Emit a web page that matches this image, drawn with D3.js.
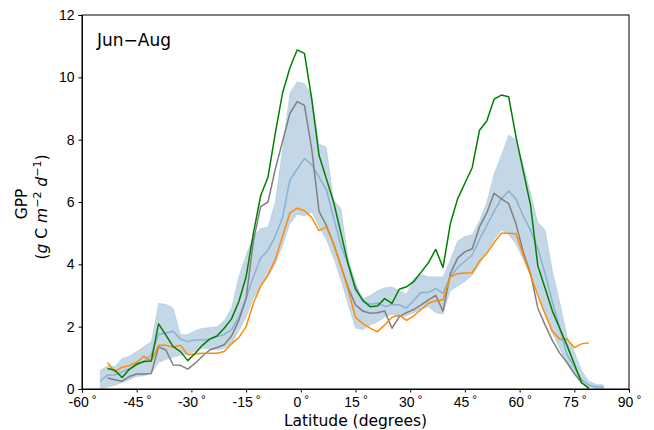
<!DOCTYPE html>
<html>
<head>
<meta charset="utf-8">
<style>
    body { margin: 0; background: #fff; }
    svg { font-family: "DejaVu Sans", sans-serif; }
    .axis text { font-size: 14px; fill: #000; }
    .axis .domain { stroke: #000; stroke-width: 1px; }
    .axis .tick line { stroke: #000; }
</style>
</head>
<body>
<svg width="654" height="430"></svg>
<script src="https://d3js.org/d3.v7.min.js"></script>
<script>
// latitude grid (2 degree bins, bin centres)
const lats = d3.range(-55, 84, 2);

const xTicks = [-60, -45, -30, -15, 0, 15, 30, 45, 60, 75, 90];
const yTicks = [0, 2, 4, 6, 8, 10, 12];

// ensemble spread (lower / upper) and ensemble mean
const bandLo = [0.02, 0.05, 0.12, 0.2, 0.3, 0.4, 0.42, 0.5, 0.85, 0.95, 1.02, 1.08, 1.12, 1.2, 1.3, 1.28, 1.25, 1.3, 1.45, 1.85,
    2.3, 2.9, 3.3, 3.6, 4.0, 4.6, 5.3, 5.6, 5.55, 5.68, 5.2, 4.8, 4.2, 3.5, 2.7, 1.95, 1.9, 2.05, 2.15, 2.3,
    2.4, 2.3, 2.35, 2.45, 2.55, 2.64, 2.45, 2.4, 3.15, 3.3, 3.45, 3.65, 4.0, 4.4, 4.8, 5.1, 4.95, 4.65, 4.15, 3.65,
    3.1, 2.45, 1.8, 1.3, 0.8, 0.45, 0.25, 0.07, 0.02, 0.02];
const bandHi = [0.6, 0.75, 0.72, 0.98, 1.05, 1.2, 1.36, 1.52, 2.75, 2.72, 2.6, 1.75, 1.75, 1.88, 1.95, 1.97, 2.0, 2.2, 2.6, 3.6,
    4.3, 4.9, 5.15, 5.2, 6.0, 7.7, 9.5, 9.86, 9.8, 9.45, 7.85, 7.77, 6.06, 5.8, 4.2, 3.4, 2.9, 3.0, 3.15, 3.25,
    3.28, 3.15, 3.05, 3.55, 3.68, 3.6, 3.6, 3.6, 4.15, 4.75, 4.9, 4.95, 5.4, 6.0, 6.9, 7.5, 8.15, 8.0, 7.2, 6.3,
    5.35, 5.1, 3.8, 2.8, 1.7, 1.2, 0.6, 0.25, 0.15, 0.14];
const ensMean = [0.25, 0.45, 0.45, 0.55, 0.65, 0.77, 0.88, 1.1, 1.75, 1.8, 1.85, 1.6, 1.52, 1.57, 1.57, 1.6, 1.68, 1.75, 1.9, 2.3,
    2.9, 3.6, 4.2, 4.45, 4.9, 5.5, 6.7, 7.05, 7.4, 7.2, 6.8, 6.4, 5.5, 4.6, 4.0, 3.3, 2.8, 2.72, 2.75, 2.65,
    2.7, 2.7, 2.6, 2.85, 3.1, 3.1, 3.22, 3.07, 3.6, 3.9, 4.1, 4.3, 4.8, 5.25, 5.7, 6.1, 6.35, 6.1, 5.55, 5.1,
    4.5, 3.7, 2.8, 1.95, 1.1, 0.7, 0.3, 0.12, 0.07, 0.07];

// reference products
const greySeries = [null, 0.35, 0.3, 0.25, 0.4, 0.48, 0.48, 0.5, 1.35, 1.25, 0.77, 0.76, 0.64, 0.82, 1.05, 1.25, 1.33, 1.42, 1.7, 2.2,
    2.9, 4.75, 5.85, 6.0, 7.05, 7.95, 8.84, 9.22, 9.1, 7.7, 5.7, 5.25, 4.65, 3.95, 3.25, 2.7, 2.5, 2.43, 2.45, 2.5,
    1.95, 2.32, 2.45, 2.55, 2.7, 2.86, 3.0, 2.5, 3.7, 4.2, 4.4, 4.5, 5.2, 5.65, 6.28, 6.1, 5.95, 5.3, 4.4, 3.7,
    2.6, 2.05, 1.55, 1.15, 0.85, 0.5, 0.2, 0.02, null, null];
const orangeSeries = [null, 0.85, 0.55, 0.7, 0.75, 0.85, 1.05, 0.9, 1.4, 1.4, 1.35, 1.4, 1.1, 1.12, 1.15, 1.15, 1.15, 1.2, 1.45, 1.65,
    2.0, 2.75, 3.3, 3.65, 4.15, 4.9, 5.65, 5.8, 5.72, 5.5, 5.08, 5.2, 4.65, 3.95, 3.18, 2.3, 2.1, 1.95, 1.84, 2.05,
    2.3, 2.37, 2.2, 2.35, 2.55, 2.75, 2.83, 2.86, 3.6, 3.7, 3.72, 3.73, 4.1, 4.35, 4.7, 5.0, 5.0, 4.98, 4.3, 3.65,
    3.0, 2.4, 1.85, 1.6, 1.6, 1.33, 1.45, 1.48, null, null];
const greenSeries = [null, 0.66, 0.6, 0.37, 0.63, 0.8, 0.88, 0.9, 2.09, 1.73, 1.36, 1.2, 0.91, 1.14, 1.4, 1.6, 1.7, 1.95, 2.25, 2.8,
    3.6, 5.0, 6.2, 6.8, 8.2, 9.5, 10.3, 10.88, 10.77, 9.3, 7.5, 6.75, 6.0, 5.0, 4.0, 3.2, 2.85, 2.64, 2.66, 2.9,
    2.75, 3.2, 3.28, 3.45, 3.75, 4.05, 4.48, 3.9, 5.3, 6.1, 6.6, 7.1, 8.3, 8.6, 9.3, 9.43, 9.38, 8.1, 7.0, 5.9,
    3.95, 3.23, 2.5, 1.95, 1.4, 0.8, 0.2, 0.03, null, null];

const margin = { top: 15, right: 25, bottom: 41, left: 82 };
const width = 654, height = 430;

const svg = d3.select("svg");

const x = d3.scaleLinear()
    .domain([-60, 90])
    .range([margin.left, width - margin.right]);

const y = d3.scaleLinear()
    .domain([0, 12])
    .range([height - margin.bottom, margin.top]);

// spread band
const area = d3.area()
    .x((d, i) => x(lats[i]))
    .y0((d, i) => y(bandLo[i]))
    .y1((d, i) => y(bandHi[i]));

svg.append("path")
    .attr("d", area(lats))
    .style("fill", "#4682b4")
    .style("fill-opacity", 0.32)
    .style("stroke", "#4682b4")
    .style("stroke-opacity", 0.15)
    .style("stroke-width", 1);

function drawLine(values, colour, opacity) {
    let line = d3.line()
        .defined((d, i) => values[i] !== null)
        .x((d, i) => x(lats[i]))
        .y((d, i) => y(values[i]));
    svg.append("path")
        .attr("d", line(lats))
        .style("fill", "none")
        .style("stroke", colour)
        .style("stroke-opacity", opacity)
        .style("stroke-width", 1.5)
        .style("stroke-linejoin", "round");
}

drawLine(ensMean, "#4682b4", 0.45);
drawLine(greySeries, "#808080", 1);
drawLine(orangeSeries, "#ff8c00", 1);
drawLine(greenSeries, "#008000", 1);

// frame
svg.append("rect")
    .attr("x", margin.left)
    .attr("y", margin.top)
    .attr("width", width - margin.left - margin.right)
    .attr("height", height - margin.top - margin.bottom)
    .style("fill", "none")
    .style("stroke", "#000")
    .style("stroke-width", 1);

// axes
let xAxis = svg.append("g")
    .attr("class", "axis")
    .attr("transform", `translate(0, ${height - margin.bottom})`)
    .call(d3.axisBottom(x).tickValues(xTicks).tickSize(3.5).tickPadding(4.5).tickFormat(""));

xAxis.selectAll(".tick text")
    .each(function (d) {
        let t = d3.select(this);
        t.append("tspan").text(d);
        t.append("tspan").text("°").attr("font-size", "12px").attr("dx", "3").attr("dy", "-3");
    });

svg.append("g")
    .attr("class", "axis")
    .attr("transform", `translate(${margin.left}, 0)`)
    .call(d3.axisLeft(y).tickValues(yTicks).tickSize(3.5).tickPadding(4));

// labels
svg.append("text")
    .attr("x", (margin.left + width - margin.right) / 2)
    .attr("y", 426)
    .attr("text-anchor", "middle")
    .style("font-size", "15.5px")
    .text("Latitude (degrees)");

let yLab = svg.append("text")
    .attr("transform", "translate(27, 204) rotate(-90)")
    .attr("text-anchor", "middle")
    .style("font-size", "15.5px");
yLab.append("tspan").attr("x", 0).attr("y", 0).text("GPP");

let yLab2 = svg.append("text")
    .attr("transform", "translate(47, 207) rotate(-90)")
    .attr("text-anchor", "middle")
    .style("font-size", "15.5px");
yLab2.append("tspan").text("(");
yLab2.append("tspan").style("font-style", "italic").text("g");
yLab2.append("tspan").text(" C ");
yLab2.append("tspan").style("font-style", "italic").text("m");
yLab2.append("tspan").attr("dy", -6).style("font-size", "11px").text("−2");
yLab2.append("tspan").attr("dy", 6).text(" ");
yLab2.append("tspan").style("font-style", "italic").text("d");
yLab2.append("tspan").attr("dy", -6).style("font-size", "11px").text("−1");
yLab2.append("tspan").attr("dy", 6).text(")");

svg.append("text")
    .attr("x", 97)
    .attr("y", 46)
    .style("font-size", "17px")
    .text("Jun\u2212Aug");
</script>
</body>
</html>
